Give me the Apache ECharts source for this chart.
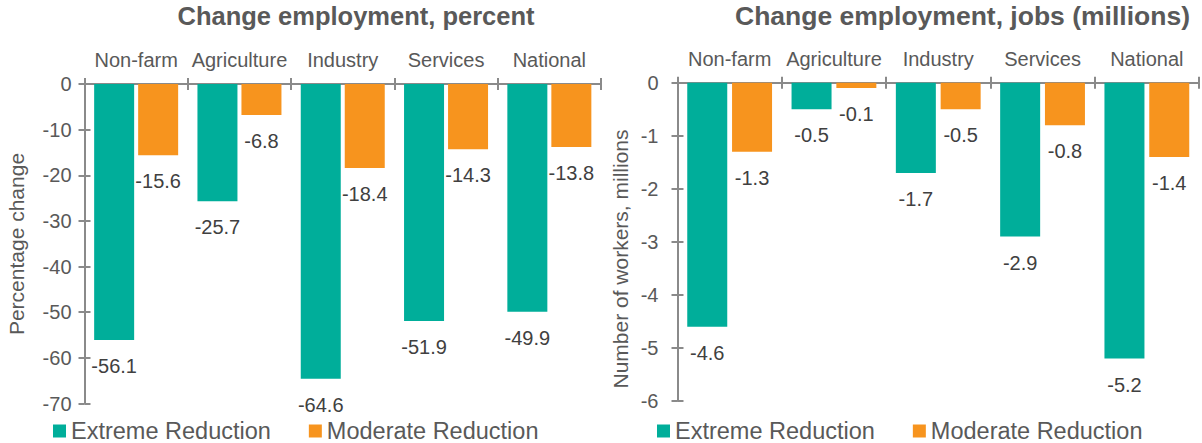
<!DOCTYPE html>
<html>
<head>
<meta charset="utf-8">
<title>Change in employment</title>
<script src="https://cdn.jsdelivr.net/npm/echarts@6/dist/echarts.min.js"></script>
<style>
  html, body { margin: 0; padding: 0; background: #ffffff; }
  #chart { width: 1202px; height: 443px; }
</style>
</head>
<body>
<div id="chart"></div>
<script>
// Sectors shown along the top axis of both panels
const categories = ['Non-farm', 'Agriculture', 'Industry', 'Services', 'National'];
const seriesNames = ['Extreme Reduction', 'Moderate Reduction'];

// Panel 1: percentage change in employment
const extremePercent = [-56.1, -25.7, -64.6, -51.9, -49.9];
const moderatePercent = [-15.6, -6.8, -18.4, -14.3, -13.8];

// Panel 2: change in number of jobs (millions)
const extremeJobs = [-4.6, -0.5, -1.7, -2.9, -5.2];
const moderateJobs = [-1.3, -0.1, -0.5, -0.8, -1.4];

const titles = ['Change employment, percent', 'Change employment, jobs (millions)'];
const axisNames = ['Percentage change', 'Number of workers, millions'];

const FONT = "'Liberation Sans', Arial, Helvetica, sans-serif";
const TEAL = '#00ae9a';
const ORANGE = '#f7941e';
const AXIS = '#8a8a8a';
const TEXT = '#595959';
const LABEL = '#404040';

const chart = echarts.init(document.getElementById('chart'), null, { renderer: 'svg' });

function categoryAxes(gridIndex) {
  const base = {
    type: 'category',
    gridIndex: gridIndex,
    data: categories,
    position: 'top',
    boundaryGap: true
  };
  return [
    Object.assign({}, base, {
      axisLine: { show: true, lineStyle: { color: AXIS, width: 2 } },
      axisTick: { show: true, inside: false, length: 6, interval: 0, lineStyle: { color: AXIS, width: 2 } },
      axisLabel: {
        show: true, interval: 0, hideOverlap: false, margin: 14,
        fontSize: 20, color: TEXT, fontFamily: FONT, lineHeight: 20
      },
      splitLine: { show: false }
    }),
    // second copy carries the downward half of the crossing ticks
    Object.assign({}, base, {
      axisLine: { show: false },
      axisTick: { show: true, inside: true, length: 6, interval: 0, lineStyle: { color: AXIS, width: 2 } },
      axisLabel: { show: false },
      splitLine: { show: false }
    })
  ];
}

function valueAxes(gridIndex, min, interval, margin) {
  const base = {
    type: 'value',
    gridIndex: gridIndex,
    position: 'left',
    min: min,
    max: 0,
    interval: interval,
    splitLine: { show: false }
  };
  return [
    Object.assign({}, base, {
      axisLine: { show: true, onZero: false, lineStyle: { color: AXIS, width: 2 } },
      axisTick: { show: true, inside: false, length: 6, lineStyle: { color: AXIS, width: 2 } },
      axisLabel: { show: true, margin: margin, fontSize: 20, color: TEXT, fontFamily: FONT }
    }),
    Object.assign({}, base, {
      axisLine: { show: false },
      axisTick: { show: true, inside: true, length: 6, lineStyle: { color: AXIS, width: 2 } },
      axisLabel: { show: false }
    })
  ];
}

function barSeries(name, data, color, axisIndex, gap) {
  return {
    type: 'bar',
    name: name,
    xAxisIndex: axisIndex,
    yAxisIndex: axisIndex,
    data: data,
    barWidth: 40,
    barGap: gap,
    itemStyle: { color: color },
    label: {
      show: true,
      position: 'bottom',
      distance: 16,
      fontSize: 20,
      lineHeight: 20,
      color: LABEL,
      fontFamily: FONT,
      formatter: p => p.value.toFixed(1)
    },
    emphasis: { disabled: true },
    animation: false
  };
}

function legendFor(left) {
  return {
    left: left,
    top: 419,
    padding: 0,
    orient: 'horizontal',
    icon: 'rect',
    itemWidth: 13,
    itemHeight: 13,
    itemGap: 38,
    data: seriesNames,
    selectedMode: false,
    textStyle: { fontSize: 23.5, lineHeight: 24, color: TEXT, fontFamily: FONT }
  };
}

function textItem(text, x, y, size, bold, rotation) {
  return {
    type: 'text',
    x: x,
    y: y,
    rotation: rotation || 0,
    style: {
      text: text,
      fontSize: size,
      fontWeight: bold ? 'bold' : 'normal',
      fontFamily: FONT,
      fill: TEXT,
      textAlign: 'center',
      textVerticalAlign: 'middle'
    }
  };
}

const option = {
  backgroundColor: '#ffffff',
  animation: false,
  textStyle: { fontFamily: FONT },
  grid: [
    { left: 84.5, right: 601, top: 84, bottom: 39.5, containLabel: false, outerBoundsMode: 'none' },
    { left: 677.5, right: 3, top: 82.7, bottom: 42, containLabel: false, outerBoundsMode: 'none' }
  ],
  xAxis: [].concat(categoryAxes(0), categoryAxes(1)),
  yAxis: [].concat(valueAxes(0, -70, 10, 13), valueAxes(1, -6, 1, 19)),
  legend: [legendFor(53), legendFor(657)],
  series: [
    barSeries(seriesNames[0], extremePercent, TEAL, 0, '10%'),
    barSeries(seriesNames[1], moderatePercent, ORANGE, 0, '10%'),
    barSeries(seriesNames[0], extremeJobs, TEAL, 2, '12%'),
    barSeries(seriesNames[1], moderateJobs, ORANGE, 2, '12%')
  ],
  graphic: [
    textItem(titles[0], 356, 16, 25.5, true),
    textItem(titles[1], 962.5, 16, 26.5, true),
    textItem(axisNames[0], 16.7, 244, 21, false, Math.PI / 2),
    textItem(axisNames[1], 620, 259, 21, false, Math.PI / 2)
  ]
};

chart.setOption(option);
</script>
</body>
</html>
